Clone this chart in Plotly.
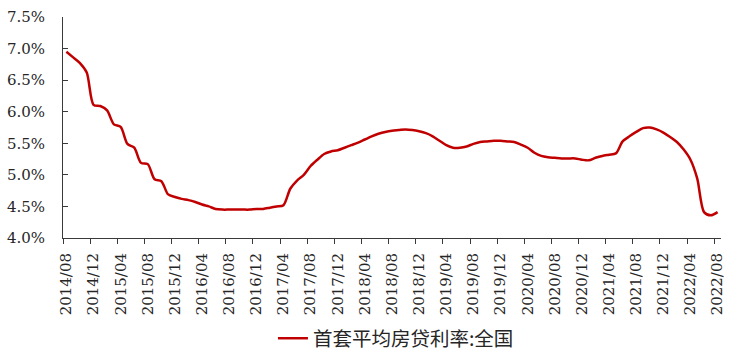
import plotly.graph_objects as go
import pandas as pd

months = [p.strftime("%Y/%m") for p in pd.period_range("2014-08", "2022-08", freq="M")]

rate = [6.95, 6.86, 6.77, 6.62, 6.11, 6.09, 6.02, 5.80, 5.76, 5.49,
        5.43, 5.19, 5.17, 4.93, 4.90, 4.69, 4.65, 4.62, 4.60, 4.57,
        4.53, 4.50, 4.46, 4.45, 4.45, 4.45, 4.45, 4.45, 4.46, 4.46,
        4.48, 4.50, 4.52, 4.78, 4.91, 5.00, 5.14, 5.24, 5.33, 5.37,
        5.39, 5.43, 5.47, 5.51, 5.56, 5.61, 5.65, 5.68, 5.70, 5.71,
        5.72, 5.71, 5.69, 5.66, 5.61, 5.54, 5.47, 5.43, 5.43, 5.45,
        5.49, 5.52, 5.53, 5.54, 5.54, 5.53, 5.52, 5.48, 5.43, 5.35,
        5.30, 5.28, 5.27, 5.26, 5.26, 5.26, 5.24, 5.23, 5.27, 5.30,
        5.32, 5.34, 5.53, 5.61, 5.68, 5.74, 5.75, 5.72, 5.67, 5.60,
        5.52, 5.40, 5.24, 4.94, 4.41, 4.36, 4.41]

tick_labels = ["2014/08", "2014/12", "2015/04", "2015/08", "2015/12", "2016/04",
               "2016/08", "2016/12", "2017/04", "2017/08", "2017/12", "2018/04",
               "2018/08", "2018/12", "2019/04", "2019/08", "2019/12", "2020/04",
               "2020/08", "2020/12", "2021/04", "2021/08", "2021/12", "2022/04",
               "2022/08"]

series_name = "首套平均房贷利率:全国"

xi = list(range(len(months)))
tick_pos = [months.index(t) for t in tick_labels]
bound_pos = [p - 0.5 for p in tick_pos]

serif = "DejaVu Serif"
axis_col = "#3a3a3a"
txt_col = "#262626"

fig = go.Figure()
fig.add_trace(go.Scatter(
    x=xi, y=rate, mode="lines", name=series_name,
    line=dict(color="#C00000", width=2.5, shape="spline", smoothing=0.8),
    showlegend=True,
))

xr = [-0.5, len(months) - 0.5]

fig.update_layout(
    width=734, height=352,
    font=dict(family=serif, size=15, color=txt_col),
    margin=dict(l=63, r=13, t=17, b=114, autoexpand=False),
    paper_bgcolor="white", plot_bgcolor="white",
    xaxis=dict(
        range=xr, tickmode="array", tickvals=tick_pos, ticktext=tick_labels,
        tickangle=-90, ticks="", showgrid=False, zeroline=False,
        showline=True, linecolor=axis_col, linewidth=1, automargin=False,
        tickfont=dict(family=serif, size=15, color=txt_col),
        ticklabelstandoff=8,
    ),
    xaxis2=dict(
        range=xr, overlaying="x", anchor="y", side="bottom",
        tickmode="array", tickvals=bound_pos, showticklabels=False,
        ticks="outside", ticklen=5, tickcolor=axis_col, tickwidth=1,
        showgrid=False, zeroline=False, showline=False, automargin=False,
    ),
    yaxis=dict(
        range=[4.0, 7.5], tickmode="linear", tick0=4.0, dtick=0.5,
        tickformat=".1f", ticksuffix="%",
        ticks="inside", ticklen=5, tickcolor=axis_col,
        showgrid=False, zeroline=False, automargin=False,
        showline=True, linecolor=axis_col, linewidth=1,
        tickfont=dict(family=serif, size=15, color=txt_col),
        ticklabelstandoff=14,
    ),
    legend=dict(
        orientation="h", x=0.506, xanchor="center", y=-0.455, yanchor="middle",
        font=dict(family="Noto Sans CJK SC", size=19.5, color=txt_col),
        bgcolor="rgba(0,0,0,0)",
    ),
)

# invisible trace so the overlay axis carrying the boundary ticks is drawn
fig.add_trace(go.Scatter(x=[xr[0]], y=[4.0], xaxis="x2", mode="markers",
                         marker=dict(opacity=0), showlegend=False, hoverinfo="skip"))

fig.write_html("out.html")
